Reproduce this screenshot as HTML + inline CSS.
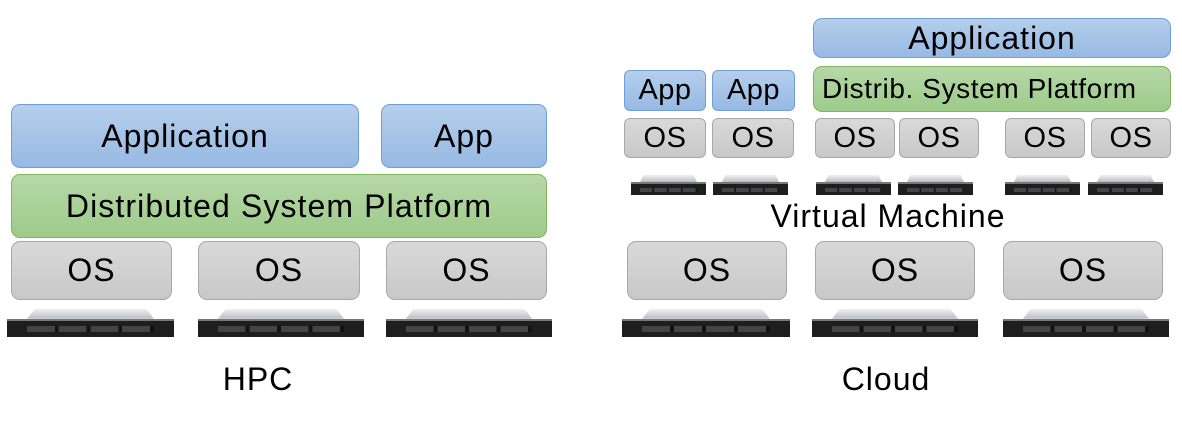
<!DOCTYPE html>
<html><head><meta charset="utf-8"><style>
body{margin:0;width:1182px;height:424px;background:#fff;position:relative;overflow:hidden;font-family:"Liberation Sans",sans-serif;color:#000}
.b{position:absolute;box-sizing:border-box;display:flex;align-items:center;justify-content:center;border-radius:9px;white-space:nowrap;font-size:32px;letter-spacing:1px}
.blue{background:linear-gradient(#b5cfec,#97b9e3);border:1px solid #6f9fd6}
.green{background:linear-gradient(#b6d8a8,#9dcb89);border:1px solid #7fb65d}
.gray{background:linear-gradient(#d9d9d9,#c8c8c8);border:1px solid #a8a8a8}
.s{font-size:29px;letter-spacing:0.5px;border-radius:6px}
.t{position:absolute;white-space:nowrap;transform:translateX(-50%);font-size:32px;letter-spacing:1px}
.srv{position:absolute;}
.srv .top{position:absolute;left:12%;right:12%;top:0;height:35%;background:linear-gradient(#eef0f2,#b9bec4);clip-path:polygon(6% 0,94% 0,100% 100%,0 100%)}
.srv .front{position:absolute;left:0;right:0;top:35%;bottom:0;background:#1e1e1e;border-top:2px solid #777}
.srv .front:after{content:"";position:absolute;left:12%;right:12%;top:35%;height:35%;background:repeating-linear-gradient(90deg,#444 0 22%,#111 22% 25%)}
</style></head><body>
<div class="b blue" style="left:11px;top:104px;width:348px;height:64px">Application</div>
<div class="b blue" style="left:381px;top:104px;width:166px;height:64px">App</div>
<div class="b green" style="left:11px;top:174px;width:536px;height:64px;letter-spacing:1.1px">Distributed System Platform</div>
<div class="b gray" style="left:11px;top:241px;width:161px;height:59px">OS</div>
<div class="b gray" style="left:198px;top:241px;width:162px;height:59px">OS</div>
<div class="b gray" style="left:386px;top:241px;width:161px;height:59px">OS</div>
<div class="srv" style="left:7px;top:309px;width:167px;height:28px"><div class="top"></div><div class="front"></div></div>
<div class="srv" style="left:198px;top:309px;width:166px;height:28px"><div class="top"></div><div class="front"></div></div>
<div class="srv" style="left:386px;top:309px;width:166px;height:28px"><div class="top"></div><div class="front"></div></div>
<div class="t" style="left:258px;top:361px">HPC</div>

<div class="b blue" style="left:813px;top:18px;width:358px;height:40px">Application</div>
<div class="b green" style="left:813px;top:66px;width:358px;height:46px;font-size:28px;letter-spacing:0.6px;justify-content:flex-start;padding-left:8px">Distrib. System Platform</div>
<div class="b blue s" style="left:624px;top:70px;width:82px;height:41px">App</div>
<div class="b blue s" style="left:712px;top:70px;width:83px;height:41px">App</div>
<div class="b gray s" style="left:624px;top:118px;width:82px;height:40px">OS</div>
<div class="b gray s" style="left:712px;top:118px;width:82px;height:40px">OS</div>
<div class="b gray s" style="left:815px;top:118px;width:80px;height:40px">OS</div>
<div class="b gray s" style="left:899px;top:118px;width:80px;height:40px">OS</div>
<div class="b gray s" style="left:1005px;top:118px;width:80px;height:40px">OS</div>
<div class="b gray s" style="left:1091px;top:118px;width:80px;height:40px">OS</div>
<div class="srv" style="left:631px;top:175px;width:75px;height:20px"><div class="top"></div><div class="front"></div></div>
<div class="srv" style="left:713px;top:175px;width:75px;height:20px"><div class="top"></div><div class="front"></div></div>
<div class="srv" style="left:816px;top:175px;width:75px;height:20px"><div class="top"></div><div class="front"></div></div>
<div class="srv" style="left:898px;top:175px;width:75px;height:20px"><div class="top"></div><div class="front"></div></div>
<div class="srv" style="left:1005px;top:175px;width:75px;height:20px"><div class="top"></div><div class="front"></div></div>
<div class="srv" style="left:1088px;top:175px;width:75px;height:20px"><div class="top"></div><div class="front"></div></div>
<div class="t" style="left:888px;top:198px">Virtual Machine</div>
<div class="b gray" style="left:627px;top:241px;width:160px;height:59px">OS</div>
<div class="b gray" style="left:815px;top:241px;width:160px;height:59px">OS</div>
<div class="b gray" style="left:1003px;top:241px;width:160px;height:59px">OS</div>
<div class="srv" style="left:622px;top:309px;width:168px;height:28px"><div class="top"></div><div class="front"></div></div>
<div class="srv" style="left:812px;top:309px;width:166px;height:28px"><div class="top"></div><div class="front"></div></div>
<div class="srv" style="left:1003px;top:309px;width:166px;height:28px"><div class="top"></div><div class="front"></div></div>
<div class="t" style="left:886px;top:361px">Cloud</div>
</body></html>
